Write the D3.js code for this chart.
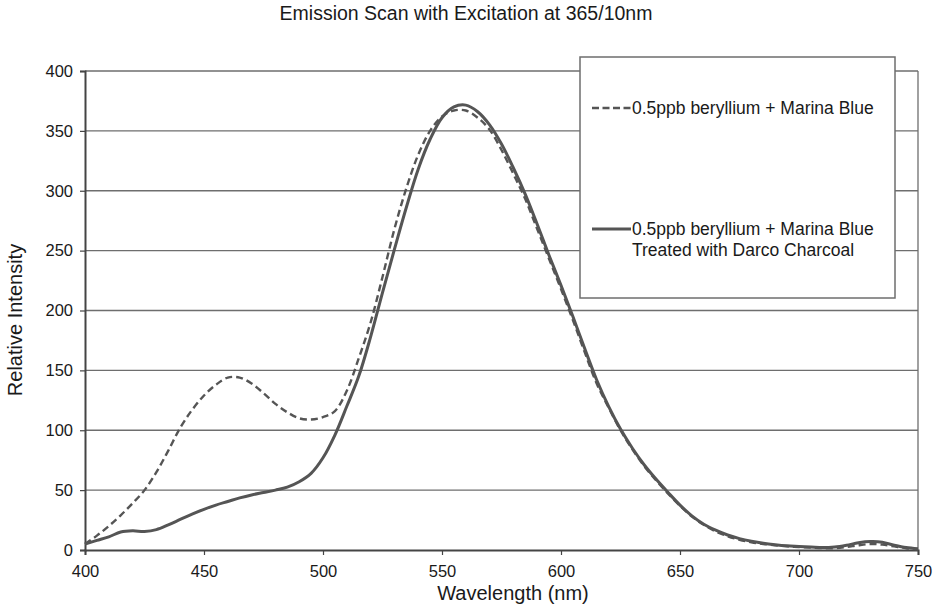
<!DOCTYPE html>
<html><head><meta charset="utf-8">
<script src="https://cdn.jsdelivr.net/npm/d3@7"></script>
<style>body{margin:0;background:#fff;}svg{display:block;font-family:"Liberation Sans",Arial,sans-serif;}</style>
</head><body>
<svg id="c" width="941" height="609"></svg>
<script>
const wavelengths = [400,405,410,415,420,425,430,435,440,445,450,455,460,465,470,475,480,485,490,495,500,505,510,515,520,525,530,535,540,545,550,555,560,565,570,575,580,585,590,595,600,605,610,615,620,625,630,635,640,645,650,655,660,665,670,675,680,685,690,695,700,705,710,715,720,725,730,735,740,745,750];
const untreated = [5,12,20,29,39,50,65,83,102,117,129,138,144,144,139,131,122,115,110,109,111,116,133,160,190,228,268,302,330,350,362,367,367,361,351,334,314,293,268,243,218,192,165,139,119,100,84,70,58,47,37,28,21,15.5,11.5,8.5,6.5,5,4,3,2.5,2,1.5,1.5,2.5,4,5,4.5,3,1.5,0.5];
const treated = [5,8,11,15,16,15.5,17,21,25.5,30,34,37.5,40.5,43.5,46,48,50,52.5,57,64,77,96,120,145,178,215,251,286,318,343,361,370,371.5,366,355,339,319,297,272,246,221,195,168,142,120,101,85,71,59,48,37.5,28.5,21.5,16.5,12.5,9.5,7.3,5.6,4.4,3.5,3,2.5,2,2.5,4,6,7,6.5,4,2,1];
const xTicks = [400,450,500,550,600,650,700,750];
const yTicks = [0,50,100,150,200,250,300,350,400];
const seriesNames = ["0.5ppb beryllium + Marina Blue", ["0.5ppb beryllium + Marina Blue","Treated with Darco Charcoal"]];

const svg = d3.select("#c");
const L=85, R=918, T=71, B=550;
const x = d3.scaleLinear().domain([400,750]).range([L,R]);
const y = d3.scaleLinear().domain([0,400]).range([B,T]);
const col="#555";
const txt="#1a1a1a";

// gridlines
svg.append("g").selectAll("line").data(yTicks.filter(d=>d>0)).join("line")
  .attr("x1",L).attr("x2",R).attr("y1",d=>y(d)).attr("y2",d=>y(d))
  .attr("stroke","#6e6e6e").attr("stroke-width",1.3);
// right border
svg.append("line").attr("x1",R).attr("x2",R).attr("y1",T).attr("y2",B).attr("stroke","#6e6e6e").attr("stroke-width",1.3);

// axes
const xa = svg.append("g").attr("transform",`translate(0,${B})`)
  .call(d3.axisBottom(x).tickValues(xTicks).tickSize(5).tickPadding(10).tickFormat(d3.format("d")));
const ya = svg.append("g").attr("transform",`translate(${L},0)`)
  .call(d3.axisLeft(y).tickValues(yTicks).tickSize(5).tickPadding(7).tickFormat(d3.format("d")));
[xa,ya].forEach(a=>{
  a.select(".domain").attr("stroke","#444").attr("stroke-width",2);
  a.selectAll(".tick line").attr("stroke","#444").attr("stroke-width",1.2);
  a.selectAll("text").attr("font-size",16.5).attr("fill",txt).attr("font-family","Liberation Sans, Arial, sans-serif");
});

const line = d3.line().x((d,i)=>x(wavelengths[i])).y(d=>y(d)).curve(d3.curveCatmullRom.alpha(0.5));
svg.append("path").attr("d",line(untreated)).attr("fill","none").attr("stroke",col)
  .attr("stroke-width",2.4).attr("stroke-dasharray","7,4");
svg.append("path").attr("d",line(treated)).attr("fill","none").attr("stroke",col)
  .attr("stroke-width",3);

// title
svg.append("text").attr("x",466).attr("y",20).attr("text-anchor","middle")
  .attr("font-size",19.5).attr("fill",txt).text("Emission Scan with Excitation at 365/10nm");
// axis titles
svg.append("text").attr("x",513).attr("y",600).attr("text-anchor","middle")
  .attr("font-size",20).attr("fill",txt).text("Wavelength (nm)");
svg.append("text").attr("transform","translate(22,320) rotate(-90)").attr("text-anchor","middle")
  .attr("font-size",20).attr("fill",txt).text("Relative Intensity");

// legend
const lg = svg.append("g");
lg.append("rect").attr("x",580).attr("y",57).attr("width",315).attr("height",241)
  .attr("fill","#fff").attr("stroke","#6e6e6e").attr("stroke-width",1.5);
lg.append("line").attr("x1",592).attr("x2",631).attr("y1",108).attr("y2",108)
  .attr("stroke",col).attr("stroke-width",2.4).attr("stroke-dasharray","7,3.5");
lg.append("text").attr("x",632).attr("y",114).attr("font-size",17.5).attr("fill",txt).text(seriesNames[0]);
lg.append("line").attr("x1",592).attr("x2",631).attr("y1",229).attr("y2",229)
  .attr("stroke",col).attr("stroke-width",3);
lg.append("text").attr("x",632).attr("y",235).attr("font-size",17.5).attr("fill",txt).text(seriesNames[1][0]);
lg.append("text").attr("x",632).attr("y",256).attr("font-size",17.5).attr("fill",txt).text(seriesNames[1][1]);
</script>
</body></html>
